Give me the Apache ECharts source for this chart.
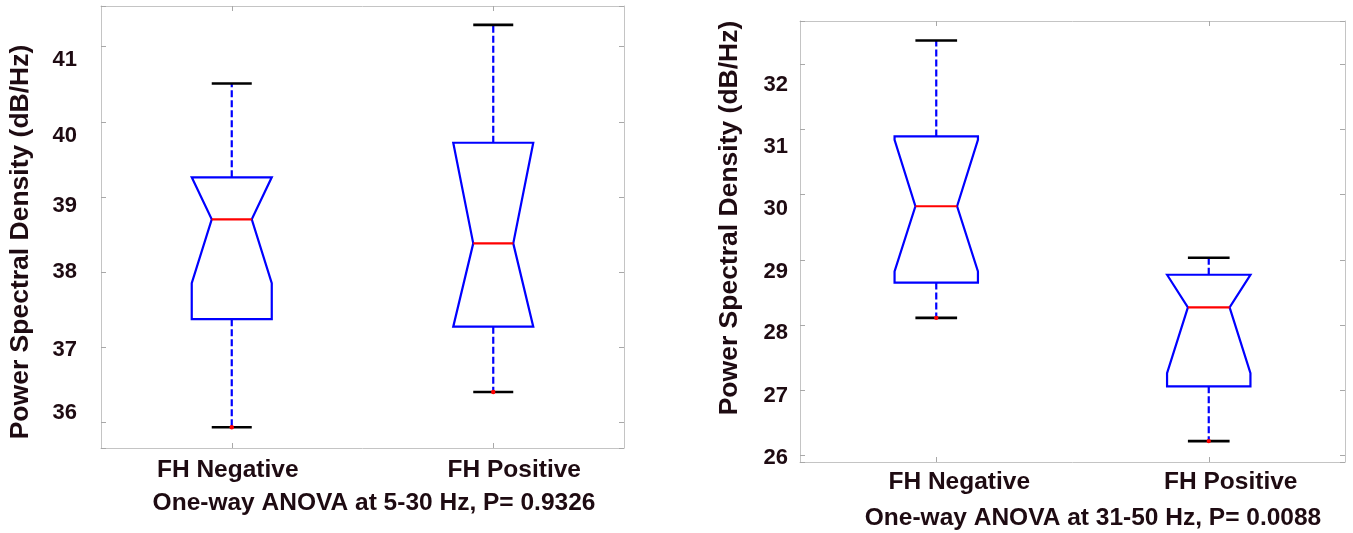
<!DOCTYPE html>
<html>
<head>
<meta charset="utf-8">
<script src="https://cdn.jsdelivr.net/npm/echarts@6.0.0/dist/echarts.min.js"></script>
<style>
  html, body { margin: 0; padding: 0; background: #ffffff; }
  #chart { width: 1353px; height: 533px; }
</style>
</head>
<body>
<div id="chart"></div>
<script>
// Group names on the x axis
const categories = ['FH Negative', 'FH Positive'];

// Box statistics per group, in the order:
// [lower whisker, Q1, notch low, median, notch high, Q3, upper whisker]
const lowBandNegative  = [35.93, 37.37, 37.85, 38.70, 39.55, 39.26, 40.51];
const lowBandPositive  = [36.40, 37.27, 36.98, 38.38, 39.78, 39.72, 41.29];
const highBandNegative = [28.11, 28.65, 28.82, 29.82, 30.84, 30.89, 32.36];
const highBandPositive = [26.22, 27.06, 27.26, 28.27, 29.28, 28.77, 29.03];

// Tick labels on the PSD axes
const lowBandTicks  = [36, 37, 38, 39, 40, 41];
const highBandTicks = [26, 27, 28, 29, 30, 31, 32];

// Axis and panel titles
const yTitle = 'Power Spectral Density (dB/Hz)';
const lowBandTitle  = 'One-way ANOVA at 5-30 Hz, P= 0.9326';
const highBandTitle = 'One-way ANOVA at 31-50 Hz, P= 0.0088';

const TEXT  = '#1e0b12';
const FONT  = '"Liberation Sans", Arial, Helvetica, sans-serif';
const FRAME = '#c4c4c4';
const TICK  = '#a8a8a8';
const BLUE  = '#0000ff';
const RED   = '#ff0000';

// Vertical nudges (px) of individual tick labels and horizontal nudges of group labels
const lowBandLabelNudge  = { 41: 13, 40: 14, 39: 9, 38: 0, 37: 3, 36: -9 };
const highBandLabelNudge = { 32: 21, 31: 18, 30: 14, 29: 12, 28: 8, 27: 6, 26: 2 };
const lowBandGroupNudge  = [-4, 21];
const highBandGroupNudge = [23, 22];

function textStyle(size) {
  return { fontFamily: FONT, fontWeight: 'bold', fontSize: size, color: TEXT };
}

function yLabels(ticks, nudge, size, margin) {
  const rich = {};
  ticks.forEach(t => {
    const d = nudge[t] || 0;
    rich['v' + t] = Object.assign(textStyle(size), {
      padding: d >= 0 ? [2 * d, 0, 0, 0] : [0, 0, -2 * d, 0]
    });
  });
  return {
    show: true,
    margin: margin,
    formatter: function (v) {
      const r = Math.round(v);
      if (Math.abs(v - r) > 1e-6 || ticks.indexOf(r) < 0) return '';
      return '{v' + r + '|' + r + '}';
    },
    rich: rich
  };
}

function xAxisPair(gridIndex, nudge, margin) {
  const rich = {};
  nudge.forEach((d, i) => {
    rich['c' + i] = Object.assign(textStyle(24.5), {
      padding: [0, d < 0 ? -2 * d : 0, 0, d > 0 ? 2 * d : 0]
    });
  });
  const common = {
    gridIndex: gridIndex,
    type: 'category',
    data: categories,
    axisLine: { show: true, onZero: false, lineStyle: { color: FRAME, width: 1 } },
    axisTick: { show: true, inside: true, alignWithLabel: true, length: 5, lineStyle: { color: TICK } },
    splitLine: { show: false }
  };
  return [
    Object.assign({}, common, {
      position: 'bottom',
      axisLabel: { interval: 0, margin: margin, formatter: (v, i) => '{c' + i + '|' + v + '}', rich: rich }
    }),
    Object.assign({}, common, { position: 'top', axisLabel: { show: false } })
  ];
}

function yAxisPair(gridIndex, min, max, ticks, nudge, margin) {
  const common = {
    gridIndex: gridIndex,
    type: 'value',
    min: min,
    max: max,
    minInterval: 1,
    maxInterval: 1,
    axisLine: { show: true, onZero: false, lineStyle: { color: FRAME, width: 1 } },
    axisTick: { show: true, inside: true, length: 5, lineStyle: { color: TICK } },
    splitLine: { show: false }
  };
  return [
    Object.assign({}, common, { position: 'left', axisLabel: yLabels(ticks, nudge, 22, margin) }),
    Object.assign({}, common, { position: 'right', axisLabel: { show: false } })
  ];
}

// Notched box: box outline, dashed whiskers, caps, median and the lowest point marker
function renderBox(params, api) {
  const xi = api.value(0);
  const band = api.size([1, 0])[0];
  const half = band * 0.153;
  const notchHalf = half * 0.5;
  const capHalf = half * 0.5;
  const lo = api.value(1), q1 = api.value(2), nLo = api.value(3), med = api.value(4);
  const nHi = api.value(5), q3 = api.value(6), hi = api.value(7);
  const cx = api.coord([xi, med])[0];
  const y = v => api.coord([xi, v])[1];
  const yLo = y(lo), yQ1 = y(q1), yNLo = y(Math.max(nLo, q1)), yMed = y(med);
  const yNHi = y(Math.min(nHi, q3)), yQ3 = y(q3), yHi = y(hi);

  const whisker = { stroke: BLUE, lineWidth: 2.2, lineDash: [7, 3], fill: null };
  const cap = { stroke: '#000000', lineWidth: 2.6, fill: null };

  return {
    type: 'group',
    children: [
      { type: 'line', shape: { x1: cx, y1: yQ3, x2: cx, y2: yHi }, style: whisker },
      { type: 'line', shape: { x1: cx, y1: yQ1, x2: cx, y2: yLo }, style: whisker },
      {
        type: 'polygon',
        shape: {
          points: [
            [cx - half, yQ3], [cx - half, yNHi], [cx - notchHalf, yMed], [cx - half, yNLo],
            [cx - half, yQ1], [cx + half, yQ1], [cx + half, yNLo], [cx + notchHalf, yMed],
            [cx + half, yNHi], [cx + half, yQ3]
          ]
        },
        style: { fill: null, stroke: BLUE, lineWidth: 2.2, lineJoin: 'miter' }
      },
      { type: 'line', shape: { x1: cx - capHalf, y1: yHi, x2: cx + capHalf, y2: yHi }, style: cap },
      { type: 'line', shape: { x1: cx - capHalf, y1: yLo, x2: cx + capHalf, y2: yLo }, style: cap },
      { type: 'line', shape: { x1: cx - notchHalf, y1: yMed, x2: cx + notchHalf, y2: yMed },
        style: { stroke: RED, lineWidth: 2.2, fill: null } },
      { type: 'circle', shape: { cx: cx, cy: yLo, r: 2.2 }, style: { fill: RED, stroke: null } }
    ]
  };
}

function boxSeries(xAxisIndex, yAxisIndex, groups) {
  return {
    type: 'custom',
    xAxisIndex: xAxisIndex,
    yAxisIndex: yAxisIndex,
    renderItem: renderBox,
    encode: { x: 0, y: [1, 2, 3, 4, 5, 6, 7] },
    data: groups.map((g, i) => [i].concat(g)),
    silent: true
  };
}

function titleText(x, y, text, size, rotation) {
  return {
    type: 'text',
    x: x,
    y: y,
    rotation: rotation || 0,
    silent: true,
    style: {
      text: text,
      font: 'bold ' + size + 'px ' + FONT,
      fill: TEXT,
      align: 'center',
      verticalAlign: 'middle',
      textAlign: 'center',
      textVerticalAlign: 'middle'
    }
  };
}

const chart = echarts.init(document.getElementById('chart'), null, { renderer: 'canvas' });

chart.setOption({
  backgroundColor: '#ffffff',
  animation: false,
  grid: [
    { left: 101, top: 6, width: 523, height: 442 },
    { left: 800, top: 21, width: 545, height: 441 }
  ],
  xAxis: [].concat(
    xAxisPair(0, lowBandGroupNudge, 9.5),
    xAxisPair(1, highBandGroupNudge, 7.5)
  ),
  yAxis: [].concat(
    yAxisPair(0, 35.654, 41.542, lowBandTicks, lowBandLabelNudge, 24),
    yAxisPair(1, 25.90, 32.66, highBandTicks, highBandLabelNudge, 12)
  ),
  series: [
    boxSeries(0, 0, [lowBandNegative, lowBandPositive]),
    boxSeries(2, 2, [highBandNegative, highBandPositive])
  ],
  graphic: [
    titleText(21, 242, yTitle, 26.5, Math.PI / 2),
    titleText(730, 218, yTitle, 26.5, Math.PI / 2),
    titleText(374, 503.5, lowBandTitle, 24.5),
    titleText(1093, 518.5, highBandTitle, 24.5)
  ]
});
</script>
</body>
</html>
